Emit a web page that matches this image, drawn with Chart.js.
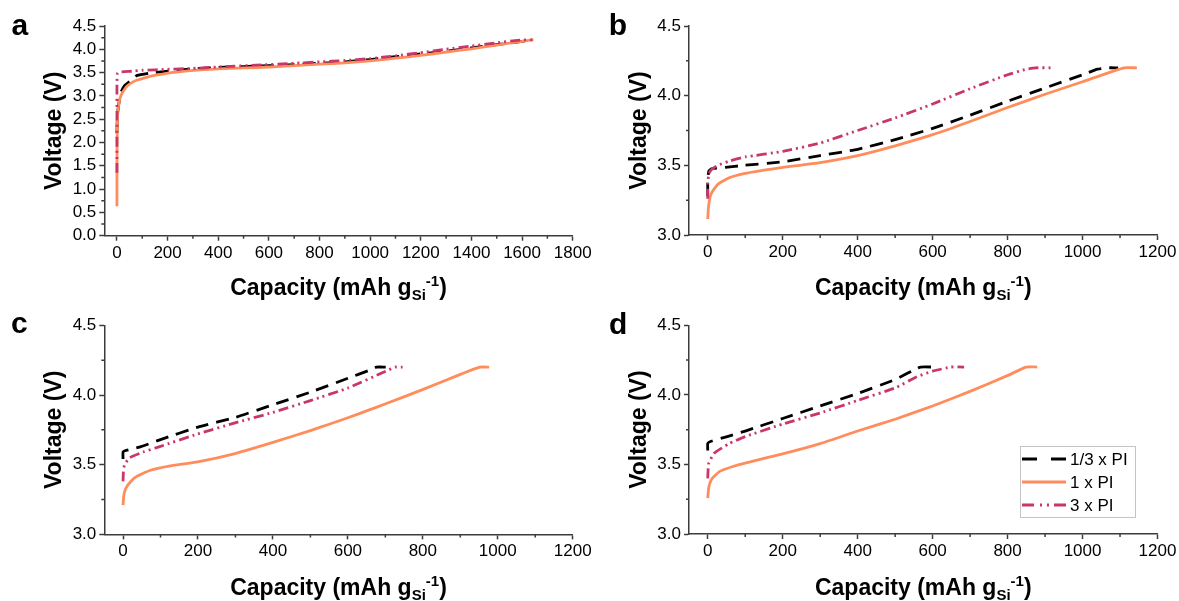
<!DOCTYPE html>
<html>
<head>
<meta charset="utf-8">
<script src="https://cdn.jsdelivr.net/npm/chart.js@4.4.1/dist/chart.umd.min.js"></script>
<style>
  body { margin: 0; background: #fff; width: 1179px; height: 601px; position: relative; overflow: hidden; }
  canvas { position: absolute; }
</style>
</head>
<body>
<canvas id="pa" width="610" height="301" style="left:0;top:0"></canvas>
<canvas id="pb" width="589" height="301" style="left:590px;top:0"></canvas>
<canvas id="pc" width="610" height="301" style="left:0;top:300px"></canvas>
<canvas id="pd" width="589" height="301" style="left:590px;top:300px"></canvas>
<script>
// ---- data ----
const seriesLabels = ['1/3 x PI', '1 x PI', '3 x PI'];
const panelLetters = ['a', 'b', 'c', 'd'];

// tick values
const xTicksA = [0, 200, 400, 600, 800, 1000, 1200, 1400, 1600, 1800];
const xMinorA = [100, 300, 500, 700, 900, 1100, 1300, 1500, 1700];
const yTicksA = [0, 0.5, 1.0, 1.5, 2.0, 2.5, 3.0, 3.5, 4.0, 4.5];
const yMinorA = [0.25, 0.75, 1.25, 1.75, 2.25, 2.75, 3.25, 3.75, 4.25];
const xTicks = [0, 200, 400, 600, 800, 1000, 1200];
const xMinor = [100, 300, 500, 700, 900, 1100];
const yTicks = [3.0, 3.5, 4.0, 4.5];
const yMinor = [3.25, 3.75, 4.25];

// panel a
const capA13 = [0, 1, 4, 10, 17, 30, 50, 80, 130, 200, 300, 400, 500, 600, 700, 800, 900, 1000, 1100, 1200, 1300, 1400, 1500, 1600, 1635];
const voltA13 = [2.2, 2.45, 2.7, 2.92, 3.09, 3.22, 3.31, 3.44, 3.49, 3.53, 3.58, 3.61, 3.63, 3.65, 3.67, 3.7, 3.73, 3.78, 3.84, 3.9, 3.96, 4.03, 4.1, 4.17, 4.2];
const capA1 = [0, 0, 1, 3, 8, 15, 25, 40, 60, 80, 100, 130, 160, 200, 250, 330, 400, 500, 600, 700, 800, 900, 1000, 1100, 1200, 1300, 1400, 1500, 1600, 1640, 1645];
const voltA1 = [0.63, 1.5, 2.3, 2.62, 2.85, 3.0, 3.1, 3.21, 3.29, 3.34, 3.37, 3.42, 3.45, 3.49, 3.52, 3.56, 3.58, 3.6, 3.62, 3.65, 3.68, 3.71, 3.75, 3.81, 3.87, 3.94, 4.01, 4.09, 4.17, 4.2, 4.2];
const capA3 = [0, 0, 0, 2, 8, 30, 60, 100, 200, 300, 430, 550, 700, 800, 900, 1000, 1100, 1200, 1300, 1400, 1500, 1600, 1645];
const voltA3 = [1.35, 2.6, 3.3, 3.48, 3.51, 3.52, 3.53, 3.55, 3.57, 3.59, 3.63, 3.66, 3.7, 3.73, 3.76, 3.8, 3.86, 3.93, 4.0, 4.07, 4.14, 4.2, 4.2];

// panel b
const capB13 = [0, 0, 3, 10, 47, 97, 200, 300, 400, 500, 600, 700, 800, 900, 1000, 1040, 1065, 1095];
const voltB13 = [3.28, 3.39, 3.46, 3.475, 3.485, 3.5, 3.525, 3.57, 3.615, 3.685, 3.765, 3.86, 3.96, 4.055, 4.15, 4.19, 4.2, 4.2];
const capB1 = [0, 2, 6, 12, 30, 57, 97, 150, 200, 300, 400, 500, 600, 700, 800, 900, 1000, 1110, 1145];
const voltB1 = [3.115, 3.2, 3.27, 3.31, 3.37, 3.41, 3.44, 3.465, 3.485, 3.52, 3.57, 3.64, 3.72, 3.815, 3.915, 4.01, 4.1, 4.2, 4.2];
const capB3 = [0, 0, 3, 10, 27, 57, 100, 200, 300, 400, 500, 600, 700, 800, 850, 875, 925];
const voltB3 = [3.26, 3.37, 3.44, 3.47, 3.5, 3.53, 3.56, 3.6, 3.66, 3.75, 3.84, 3.94, 4.05, 4.15, 4.19, 4.2, 4.2];

// panel c
const capC13 = [0, 0, 5, 48, 100, 200, 300, 400, 500, 600, 660, 676, 701];
const voltC13 = [3.54, 3.59, 3.6, 3.63, 3.68, 3.77, 3.84, 3.93, 4.02, 4.12, 4.18, 4.2, 4.2];
const capC1 = [0, 2, 6, 13, 33, 73, 123, 199, 299, 400, 500, 550, 600, 650, 701, 801, 902, 952, 977];
const voltC1 = [3.21, 3.28, 3.32, 3.355, 3.41, 3.46, 3.49, 3.52, 3.58, 3.66, 3.745, 3.79, 3.837, 3.886, 3.937, 4.04, 4.15, 4.2, 4.2];
const capC3 = [0, 1, 4, 18, 53, 98, 199, 299, 400, 500, 600, 701, 726, 746];
const voltC3 = [3.38, 3.45, 3.5, 3.55, 3.59, 3.63, 3.72, 3.8, 3.875, 3.96, 4.05, 4.17, 4.2, 4.2];

// panel d
const capD13 = [0, 0, 7, 52, 100, 200, 300, 400, 500, 558, 568, 603];
const voltD13 = [3.6, 3.65, 3.665, 3.7, 3.74, 3.83, 3.92, 4.01, 4.11, 4.19, 4.2, 4.2];
const capD1 = [0, 2, 5, 12, 32, 67, 100, 200, 300, 400, 500, 600, 700, 801, 849, 879];
const voltD1 = [3.257, 3.32, 3.36, 3.4, 3.45, 3.485, 3.51, 3.576, 3.65, 3.74, 3.825, 3.92, 4.025, 4.14, 4.2, 4.2];
const capD3 = [0, 1, 3, 17, 57, 100, 200, 300, 400, 500, 558, 600, 649, 684];
const voltD3 = [3.4, 3.46, 3.51, 3.58, 3.65, 3.7, 3.79, 3.87, 3.96, 4.05, 4.13, 4.17, 4.2, 4.2];

// ---- styling ----
const FONT = '"Liberation Sans", Arial, Helvetica, sans-serif';
const AXIS = '#3c3c3c';
const styles = [
    { color: '#000000', dash: [13, 8], legendDash: [15, 14] },
    { color: '#FF8D5C', dash: [], legendDash: [] },
    { color: '#C8366C', dash: [10, 4, 2, 4, 2, 4], legendDash: [12, 6, 2, 5, 2, 5] },
];

function pts(xs, ys) {
    return xs.map((x, i) => ({ x: x, y: ys[i] }));
}

// letter, x-axis title with sub/superscript, minor ticks, legend
const panelDeco = {
    id: 'panelDeco',
    afterDraw(chart, args, o) {
        const { ctx, chartArea } = chart;
        const sx = chart.scales.x, sy = chart.scales.y;
        ctx.save();

        // minor ticks
        ctx.strokeStyle = AXIS;
        ctx.lineWidth = 1.5;
        ctx.beginPath();
        o.xMinor.forEach(v => {
            const px = sx.getPixelForValue(v);
            ctx.moveTo(px, chartArea.bottom);
            ctx.lineTo(px, chartArea.bottom + 3);
        });
        o.yMinor.forEach(v => {
            const py = sy.getPixelForValue(v);
            ctx.moveTo(chartArea.left, py);
            ctx.lineTo(chartArea.left - 3, py);
        });
        ctx.stroke();

        // panel letter
        ctx.fillStyle = '#000';
        ctx.textAlign = 'left';
        ctx.textBaseline = 'alphabetic';
        ctx.font = 'bold 30px ' + FONT;
        ctx.fillText(o.letter, o.letterX, o.letterY);

        // x title
        const parts = [
            { t: 'Capacity (mAh g', f: 'bold 23px ' + FONT, dy: 0 },
            { t: 'Si', f: 'bold 15px ' + FONT, dy: 5 },
            { t: '-1', f: 'bold 15px ' + FONT, dy: -9 },
            { t: ')', f: 'bold 23px ' + FONT, dy: 0 },
        ];
        let total = 0;
        parts.forEach(p => { ctx.font = p.f; p.w = ctx.measureText(p.t).width; total += p.w; });
        let x = (chartArea.left + chartArea.right) / 2 - total / 2;
        parts.forEach(p => {
            ctx.font = p.f;
            ctx.fillText(p.t, x, o.titleY + p.dy);
            x += p.w;
        });

        // legend
        if (o.legend) {
            const L = o.legend;
            ctx.strokeStyle = '#c4c4c4';
            ctx.lineWidth = 1;
            ctx.strokeRect(L.x + 0.5, L.y + 0.5, L.w, L.h);
            ctx.font = '17px ' + FONT;
            ctx.textBaseline = 'middle';
            chart.data.datasets.forEach((ds, i) => {
                const ry = L.y + 13 + i * 23;
                ctx.strokeStyle = ds.borderColor;
                ctx.lineWidth = ds.borderWidth;
                ctx.setLineDash(styles[i].legendDash);
                ctx.beginPath();
                ctx.moveTo(L.x + 2, ry);
                ctx.lineTo(L.x + 46, ry);
                ctx.stroke();
                ctx.setLineDash([]);
                ctx.fillStyle = '#000';
                ctx.fillText(ds.label, L.x + 50, ry + 1);
            });
        }
        ctx.restore();
    }
};

const panels = [
    { id: 'pa', w: 610, area: { l: 104.3, r: 572.7, t: 26, b: 235.7 }, yMin: 0, yMax: 4.5, xMax: 1800,
      xTicks: xTicksA, xMinor: xMinorA, yTicks: yTicksA, yMinor: yMinorA, yTitlePad: 41.2,
      letter: panelLetters[0], letterX: 11.5, letterY: 35, titleY: 295,
      series: [[capA13, voltA13], [capA1, voltA1], [capA3, voltA3]] },
    { id: 'pb', w: 589, area: { l: 99, r: 567.5, t: 26, b: 235 }, yMin: 3, yMax: 4.5, xMax: 1200,
      xTicks: xTicks, xMinor: xMinor, yTicks: yTicks, yMinor: yMinor, yTitlePad: 35.7,
      letter: panelLetters[1], letterX: 18.8, letterY: 35, titleY: 295,
      series: [[capB13, voltB13], [capB1, voltB1], [capB3, voltB3]] },
    { id: 'pc', w: 610, area: { l: 104.3, r: 572.7, t: 25.3, b: 234.4 }, yMin: 3, yMax: 4.5, xMax: 1200,
      xTicks: xTicks, xMinor: xMinor, yTicks: yTicks, yMinor: yMinor, yTitlePad: 41.2,
      letter: panelLetters[2], letterX: 11, letterY: 33, titleY: 295,
      series: [[capC13, voltC13], [capC1, voltC1], [capC3, voltC3]] },
    { id: 'pd', w: 589, area: { l: 99, r: 567.5, t: 25.3, b: 234 }, yMin: 3, yMax: 4.5, xMax: 1200,
      xTicks: xTicks, xMinor: xMinor, yTicks: yTicks, yMinor: yMinor, yTitlePad: 35.7,
      letter: panelLetters[3], letterX: 19, letterY: 34, titleY: 295,
      legend: { x: 430, y: 146, w: 115, h: 71 },
      series: [[capD13, voltD13], [capD1, voltD1], [capD3, voltD3]] },
];

const H = 301;

panels.forEach(p => {
    const ctx = document.getElementById(p.id).getContext('2d');
    new Chart(ctx, {
        type: 'line',
        data: {
            datasets: p.series.map((s, i) => ({
                label: seriesLabels[i],
                data: pts(s[0], s[1]),
                borderColor: styles[i].color,
                borderDash: styles[i].dash,
                borderWidth: 2.8,
                pointRadius: 0,
                tension: 0.15,
                fill: false,
                order: 2 - i,
            }))
        },
        options: {
            responsive: false,
            animation: false,
            events: [],
            layout: { padding: { left: 0, top: p.area.t, right: p.w - p.area.r, bottom: 0 } },
            plugins: {
                legend: { display: false },
                tooltip: { enabled: false },
                panelDeco: {
                    letter: p.letter, letterX: p.letterX, letterY: p.letterY, titleY: p.titleY,
                    xMinor: p.xMinor, yMinor: p.yMinor, legend: p.legend
                }
            },
            scales: {
                x: {
                    type: 'linear',
                    min: -50,
                    max: p.xMax,
                    afterBuildTicks: s => { s.ticks = p.xTicks.map(v => ({ value: v })); },
                    afterFit: s => { s.height = H - p.area.b; s.paddingLeft = 0; s.paddingRight = 0; },
                    ticks: { font: { family: FONT, size: 17 }, color: '#000', padding: 2, maxRotation: 0, autoSkip: false,
                             callback: v => String(v) },
                    grid: { drawOnChartArea: false, drawTicks: true, tickLength: 5, tickWidth: 1.5, tickColor: AXIS },
                    border: { display: true, color: AXIS, width: 1.5 }
                },
                y: {
                    type: 'linear',
                    min: p.yMin,
                    max: p.yMax,
                    afterBuildTicks: s => { s.ticks = p.yTicks.map(v => ({ value: v })); },
                    afterFit: s => { s.width = p.area.l; s.paddingTop = 0; s.paddingBottom = 0; },
                    ticks: { font: { family: FONT, size: 17 }, color: '#000', padding: 3, autoSkip: false,
                             callback: v => v.toFixed(1) },
                    grid: { drawOnChartArea: false, drawTicks: true, tickLength: 5, tickWidth: 1.5, tickColor: AXIS },
                    border: { display: true, color: AXIS, width: 1.5 },
                    title: { display: true, text: 'Voltage (V)', color: '#000',
                             font: { family: FONT, size: 23, weight: 'bold' },
                             padding: { top: p.yTitlePad, bottom: 0 } }
                }
            }
        },
        plugins: [panelDeco]
    });
});
</script>
</body>
</html>
